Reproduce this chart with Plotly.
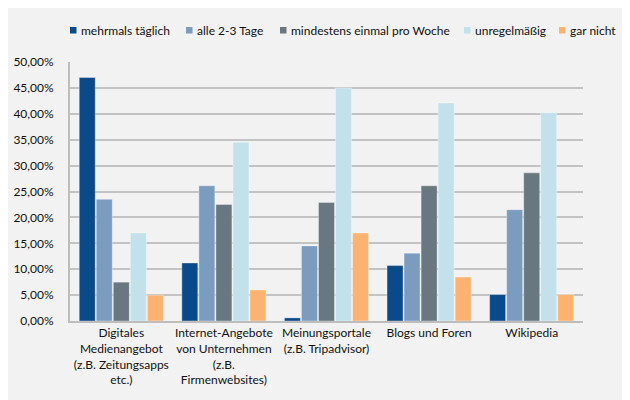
import plotly.graph_objects as go

categories = [
    "Digitales<br>Medienangebot<br>(z.B. Zeitungsapps<br>etc.)",
    "Internet-Angebote<br>von Unternehmen<br>(z.B.<br>Firmenwebsites)",
    "Meinungsportale<br>(z.B. Tripadvisor)",
    "Blogs und Foren",
    "Wikipedia",
]
series_names = ["mehrmals täglich", "alle 2-3 Tage", "mindestens einmal pro Woche", "unregelmäßig", "gar nicht"]
mehrmals = [47.0, 11.2, 0.6, 10.7, 5.1]
alle_2_3 = [23.5, 26.1, 14.5, 13.1, 21.5]
mindestens = [7.5, 22.5, 22.9, 26.1, 28.6]
unregelmaessig = [17.0, 34.5, 45.0, 42.1, 40.2]
gar_nicht = [5.0, 6.0, 17.0, 8.5, 5.1]
y_ticks = [0, 5, 10, 15, 20, 25, 30, 35, 40, 45, 50]
y_ticktext = [f"{v:.2f}".replace(".", ",") + "%" for v in y_ticks]

colors = ["#0b4a89", "#7b9bbf", "#687780", "#c2e1ea", "#fcb271"]
values = [mehrmals, alle_2_3, mindestens, unregelmaessig, gar_nicht]

W, H = 630, 400
ML, MR, MT, MB = 62, 55, 54, 87
PW, PH = W - ML - MR, H - MT - MB

def px_x(px):
    return (px - ML) / PW

def px_y(py):
    return (H - MB - py) / PH

fig = go.Figure()
for name, vals, col in zip(series_names, values, colors):
    fig.add_trace(go.Bar(
        x=categories, y=vals, name=name,
        marker=dict(color=col, line=dict(width=0.6, color="rgba(255,255,255,0.6)")),
    ))

# custom legend (swatches + text)
legend_left = [62, 178, 272, 456, 551]
shapes = []
annotations = []
for name, col, lx in zip(series_names, colors, legend_left):
    shapes.append(dict(type="rect", xref="paper", yref="paper",
                       x0=px_x(lx), x1=px_x(lx + 6.5), y0=px_y(25.5), y1=px_y(19),
                       fillcolor=col, line=dict(width=0)))
    annotations.append(dict(xref="paper", yref="paper", x=px_x(lx + 9), y=px_y(22),
                            xanchor="left", yanchor="middle", text=name, showarrow=False,
                            font=dict(size=12, color="#111111")))

font_family = "Lato, Open Sans, sans-serif"
fig.update_layout(
    width=W, height=H,
    paper_bgcolor="#f2f2f2", plot_bgcolor="#f2f2f2",
    margin=dict(l=ML, r=MR, t=MT, b=MB),
    barmode="group", bargap=0.17, bargroupgap=0.06,
    font=dict(family=font_family, size=12, color="#111111"),
    showlegend=False,
    shapes=shapes,
    annotations=annotations,
    xaxis=dict(showline=True, linecolor="#bdbdbd", linewidth=2, showgrid=False,
               tickfont=dict(size=12), ticks="", automargin=False),
    yaxis=dict(range=[0, 50], tickvals=y_ticks, ticktext=y_ticktext,
               showgrid=True, gridcolor="#c3c3c3", gridwidth=1.5,
               showline=True, linecolor="#bdbdbd", linewidth=2,
               zeroline=False, tickfont=dict(size=12), ticks="", ticklabelstandoff=12,
               automargin=False),
)

fig.write_html("out.html")
